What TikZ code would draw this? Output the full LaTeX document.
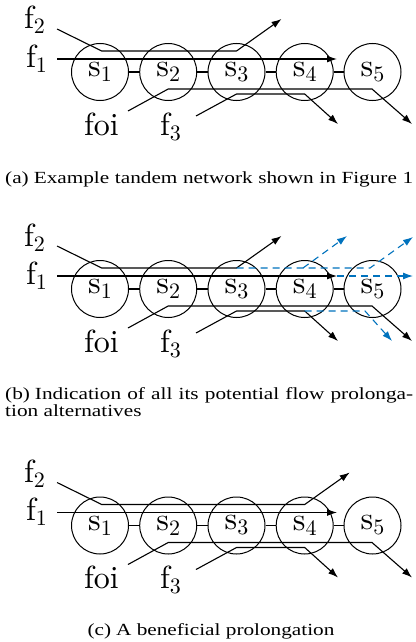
\documentclass[tikz,border=0pt]{standalone}
\usepackage{fontspec}
\usepackage{graphicx}
\usetikzlibrary{arrows.meta}
\newfontfamily\capfont{Liberation Serif}
\newfontfamily\labfont{lmroman10-regular.otf}
\definecolor{altblue}{RGB}{0,114,189}
\newcommand{\lsub}[1]{\raisebox{-5pt}{\fontsize{22}{24}\selectfont #1}}
\tikzset{
  srv/.style={circle, draw, line width=1pt, minimum size=57pt, inner sep=0pt, font=\labfont\fontsize{32}{36}\selectfont},
  lab/.style={inner sep=0pt, anchor=base west, font=\labfont\fontsize{32}{36}\selectfont},
  flow/.style={line width=1.1pt, line join=miter},
  arr/.style={-{Latex[length=10pt,width=7pt]}},
  alt/.style={line width=1.1pt, altblue, dash pattern=on 7pt off 5pt, -{Latex[length=10pt,width=7pt]}},
  captext/.style={inner sep=0pt, font=\capfont\fontsize{17}{18}\selectfont},
}
\newcommand{\tandem}[2]{%
  \foreach \i/\x in {1/100,2/168.2,3/236.5,4/304.7,5/372.5}{
    \node[srv] (s\i#1) at (\x,72) {s\lsub{\i}};
  }
  \foreach \i/\j in {1/2,2/3,3/4,4/5} \draw[flow] (s\i#1) -- (s\j#1);
  \node[lab] (lf2#1) at (24,29) {f\lsub{2}};
  \node[lab] (lf1#1) at (26,67) {f\lsub{1}};
  \node[lab] (lfoi#1) at (84,135) {foi};
  \node[lab] (lf3#1) at (160,135) {f\lsub{3}};
  % f2
  \coordinate (f2in#1) at (57,29);
  \coordinate (f2a#1) at (101.7,51);
  \coordinate (f2b#1) at (#2,51);
  \coordinate (f2out#1) at (#2+45,19);
  \draw[flow,arr] (f2in#1) -- (f2a#1) -- (f2b#1) -- (f2out#1);
  % f1
  \coordinate (f1in#1) at (57,59);
  \coordinate (f1out#1) at (337,59);
  \draw[flow,arr] (f1in#1) -- (f1out#1);
  % foi
  \coordinate (foiin#1) at (128,111);
  \coordinate (foia#1) at (168.2,89);
  \coordinate (foib#1) at (372,89);
  \coordinate (foiout#1) at (412,124);
  \draw[flow,arr] (foiin#1) -- (foia#1) -- (foib#1) -- (foiout#1);
  % f3
  \coordinate (f3in#1) at (196,116);
  \coordinate (f3a#1) at (236.5,94);
  \coordinate (f3b#1) at (304.7,94);
  \coordinate (f3out#1) at (338,124);
  \draw[flow,arr] (f3in#1) -- (f3a#1) -- (f3b#1) -- (f3out#1);
}
\begin{document}
\begin{tikzpicture}[x=1pt,y=-1pt]
\useasboundingbox (0,0) rectangle (415,642);
% (a)
\begin{scope}
  \tandem{a}{236.5}
\end{scope}
\node[captext, anchor=base west] (capa) at (5,183) {\scalebox{1.25}[1]{\makebox[326.4pt][s]{(a)\hspace{4pt}Example tandem network shown in Figure 1}}};
% (b)
\begin{scope}[yshift=-217pt]
  \tandem{b}{236.5}
  \coordinate (d2a) at (370,51);
  \coordinate (d2o) at (413,20);
  \coordinate (d2m) at (303,51);
  \coordinate (d2mo) at (347,19);
  \draw[alt] (f2bb) -- (d2a) -- (d2o);
  \draw[alt] (d2m) -- (d2mo);
  \coordinate (d1o) at (413,59);
  \draw[alt] (f1outb) -- (d1o);
  \coordinate (d3a) at (365,94);
  \coordinate (d3o) at (392,124);
  \draw[alt] (f3bb) -- (d3a) -- (d3o);
\end{scope}
\node[captext, anchor=base west] (capb1) at (5,399) {\scalebox{1.25}[1]{\makebox[326.4pt][s]{(b)\hspace{4pt}Indication of all its potential flow prolonga-}}};
\node[captext, anchor=base west] (capb2) at (5,416.5) {\scalebox{1.25}[1]{tion alternatives}};
% (c)
\begin{scope}[yshift=-453.5pt]
  \tandem{c}{304.7}
\end{scope}
\node[captext, anchor=base] (capc) at (211,635) {\scalebox{1.25}[1]{(c)\hspace{4pt}A beneficial prolongation}};
\end{tikzpicture}
\end{document}
